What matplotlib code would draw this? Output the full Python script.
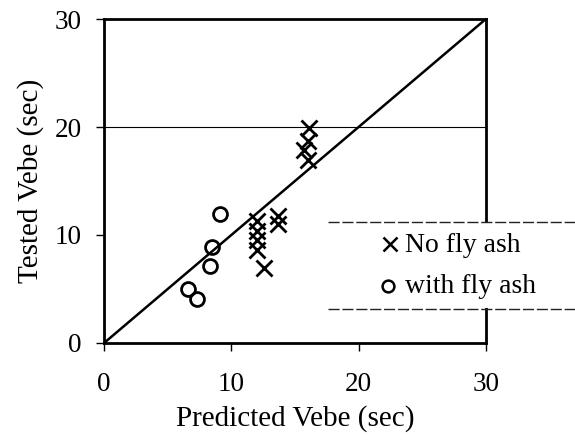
import matplotlib.pyplot as plt
from matplotlib.lines import Line2D

# predicted vs tested Vebe time (sec)
no_ash_pred = [16.1, 16.0, 15.7, 16.0, 12.0, 12.0, 12.0, 12.0, 13.7, 13.7, 12.6]
no_ash_test = [19.9, 18.7, 17.9, 16.9, 11.3, 10.4, 9.5, 8.6, 11.8, 11.0, 6.9]

ash_pred = [9.1, 8.5, 8.3, 6.6, 7.3]
ash_test = [11.9, 8.9, 7.1, 5.0, 4.1]

ticks = [0, 10, 20, 30]
legend_labels = ["No fly ash", "with fly ash"]

plt.rcParams["font.family"] = ["Liberation Serif", "DejaVu Serif"]

fig = plt.figure(figsize=(5.75, 4.42), dpi=100)
ax = fig.add_axes([0.181, 0.224, 0.664, 0.733])

ax.plot([0, 30], [0, 30], color="black", lw=1.8, zorder=2)
ax.axhline(20, color="black", lw=0.8, zorder=1)

ax.plot(no_ash_pred, no_ash_test, linestyle="none", marker="x", markersize=11,
        markeredgewidth=2.0, color="black", zorder=3)
ax.plot(ash_pred, ash_test, linestyle="none", marker="o", markersize=10,
        markerfacecolor="none", markeredgewidth=2.0, markeredgecolor="black", zorder=3)

ax.set_xlim(0, 30)
ax.set_ylim(0, 30)
ax.set_xticks(ticks)
ax.set_yticks(ticks)
ax.tick_params(direction="out", length=6, width=1, labelsize=19.5)
ax.tick_params(axis="x", pad=15)
ax.tick_params(axis="y", pad=10)
for s in ax.spines.values():
    s.set_linewidth(2.0)

ax.set_xlabel("Predicted Vebe (sec)", fontsize=21, labelpad=6)
ax.set_ylabel("Tested Vebe (sec)", fontsize=21, labelpad=8)

# legend box drawn in figure pixels, it sticks out of the axes on the right
W, H = 575, 442


def fx(px):
    return px / W


def fy(py):
    return 1 - py / H


fig.patches.append(plt.Rectangle((fx(330), fy(308)), fx(575) - fx(330), fy(223) - fy(308),
                                 transform=fig.transFigure, facecolor="white",
                                 edgecolor="none", zorder=5))
for py in (221.5, 309):
    fig.add_artist(Line2D([fx(328), fx(575)], [fy(py), fy(py)], color="#222222",
                          lw=1.0, linestyle=(0, (8, 2)), zorder=6))

fig.add_artist(Line2D([fx(390)], [fy(244)], marker="x", markersize=10,
                      markeredgewidth=1.8, color="black", linestyle="none", zorder=6))
fig.add_artist(Line2D([fx(388)], [fy(286)], marker="o", markersize=8.5,
                      markerfacecolor="none", markeredgewidth=1.8,
                      markeredgecolor="black", linestyle="none", zorder=6))
fig.text(fx(405), fy(252), legend_labels[0], fontsize=20, va="baseline", ha="left", zorder=6)
fig.text(fx(405), fy(293), legend_labels[1], fontsize=20, va="baseline", ha="left", zorder=6)

fig.savefig("out.png", dpi=100)
